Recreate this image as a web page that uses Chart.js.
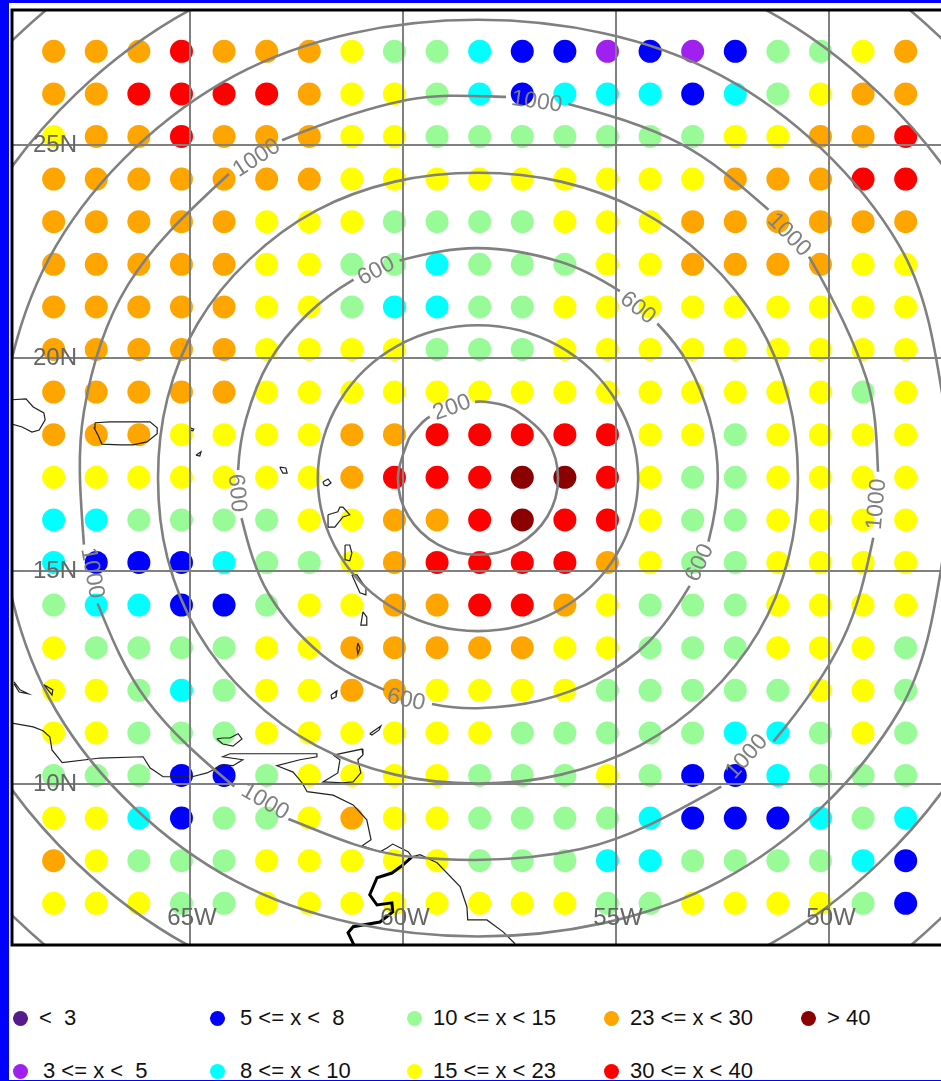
<!DOCTYPE html>
<html>
<head>
<meta charset="utf-8">
<title>Range rings and station values</title>
<script src="https://cdn.jsdelivr.net/npm/chart.js@4"></script>
<style>
  html, body { margin: 0; padding: 0; background: #0000ff; width: 941px; height: 1081px; overflow: hidden; }
  #sheet { position: absolute; left: 9px; top: 3px; width: 932px; height: 1077px; background: #fff; overflow: hidden; }
  #map { position: absolute; left: 0; top: 0; }
  #legend {
    position: absolute; left: 4px; top: 1002px;
    display: grid; grid-auto-flow: column;
    grid-template-columns: repeat(5, 197px); grid-template-rows: repeat(2, 53px);
    font: 22px "Liberation Sans", sans-serif; color: #111;
  }
  .item { display: flex; align-items: center; height: 26px; white-space: pre; }
  .dot { width: 15px; height: 15px; border-radius: 50%; margin-right: 11px; flex: none; }
  .item:nth-child(2) .dot { margin-right: 15px; }
  .item:nth-child(3) .dot, .item:nth-child(4) .dot { margin-right: 15px; }
</style>
</head>
<body>
<div id="sheet">
  <canvas id="map" width="932" height="950"></canvas>
  <div id="legend"></div>
</div>
<script>
const lons = [-68.2, -67.2, -66.2, -65.2, -64.2, -63.2, -62.2, -61.2, -60.2, -59.2, -58.2, -57.2, -56.2, -55.2, -54.2, -53.2, -52.2, -51.2, -50.2, -49.2, -48.2];
const lats = [27.2, 26.2, 25.2, 24.2, 23.2, 22.2, 21.2, 20.2, 19.2, 18.2, 17.2, 16.2, 15.2, 14.2, 13.2, 12.2, 11.2, 10.2, 9.2, 8.2, 7.2];

const row27 = [26, 26, 26, 35, 26, 26, 26, 19, 12, 12, 9, 6, 6, 4, 6, 4, 6, 12, 12, 19, 26];
const row26 = [26, 26, 35, 35, 35, 35, 26, 19, 19, 12, 9, 6, 9, 9, 9, 6, 9, 12, 19, 26, 26];
const row25 = [19, 26, 26, 35, 26, 26, 26, 19, 19, 12, 12, 12, 12, 12, 12, 12, 19, 19, 26, 26, 35];
const row24 = [26, 26, 26, 26, 26, 26, 26, 19, 19, 19, 19, 19, 19, 19, 19, 19, 26, 26, 26, 35, 35];
const row23 = [26, 26, 26, 26, 26, 19, 19, 19, 12, 12, 12, 12, 19, 19, 19, 26, 26, 26, 26, 26, 26];
const row22 = [26, 26, 26, 26, 26, 19, 19, 12, 12, 9, 12, 12, 12, 19, 19, 26, 26, 26, 26, 19, 19];
const row21 = [26, 26, 26, 26, 26, 19, 19, 12, 9, 9, 12, 12, 19, 19, 19, 19, 19, 19, 19, 19, 19];
const row20 = [26, 26, 26, 26, 26, 19, 19, 19, 19, 12, 12, 12, 19, 19, 19, 19, 19, 19, 19, 19, 19];
const row19 = [26, 26, 26, 26, 26, 19, 19, 19, 19, 19, 19, 19, 19, 19, 19, 19, 19, 19, 19, 12, 19];
const row18 = [26, 26, 26, 19, 19, 19, 19, 26, 26, 35, 35, 35, 35, 35, 19, 19, 12, 19, 19, 19, 19];
const row17 = [19, 19, 19, 19, 19, 19, 19, 26, 35, 35, 35, 45, 45, 35, 19, 12, 12, 19, 19, 19, 19];
const row16 = [9, 9, 12, 12, 12, 12, 19, 19, 26, 26, 35, 45, 35, 35, 19, 12, 12, 19, 19, 19, 19];
const row15 = [9, 6, 6, 6, 9, 12, 12, 19, 26, 35, 35, 35, 35, 26, 19, 12, 12, 19, 19, 19, 19];
const row14 = [12, 9, 9, 6, 6, 12, 19, 19, 26, 26, 35, 35, 26, 19, 12, 12, 12, 19, 19, 19, 19];
const row13 = [19, 12, 12, 12, 12, 19, 19, 26, 26, 26, 26, 26, 19, 19, 12, 12, 12, 19, 19, 19, 12];
const row12 = [19, 19, 12, 9, 12, 19, 19, 26, 26, 19, 19, 19, 19, 12, 12, 12, 12, 12, 19, 19, 12];
const row11 = [19, 19, 12, 12, 12, 19, 19, 19, 19, 19, 19, 12, 12, 12, 12, 12, 9, 9, 12, 19, 12];
const row10 = [12, 12, 12, 6, 6, 12, 19, 19, 19, 19, 12, 12, 12, 19, 12, 6, 6, 9, 12, 12, 12];
const row9 = [19, 19, 9, 6, 12, 12, 19, 26, 19, 19, 12, 12, 12, 12, 9, 6, 6, 6, 9, 12, 9];
const row8 = [26, 19, 12, 12, 12, 19, 19, 19, 19, 19, 12, 12, 12, 9, 9, 12, 12, 12, 12, 9, 6];
const row7 = [19, 19, 19, 12, 12, 19, 19, 19, 19, 19, 19, 19, 19, 12, 12, 19, 19, 19, 19, 12, 6];
const rows = [row27, row26, row25, row24, row23, row22, row21, row20, row19, row18, row17, row16, row15, row14, row13, row12, row11, row10, row9, row8, row7];

const classBreaks = [3, 5, 8, 10, 15, 23, 30, 40];
const classLabels = ['<  3', '3 <= x <  5', '5 <= x <  8', '8 <= x < 10', '10 <= x < 15', '15 <= x < 23', '23 <= x < 30', '30 <= x < 40', '> 40'];
const classColors = ['#551a8b', '#a020f0', '#0000ff', '#00ffff', '#98fb98', '#ffff00', '#ffa500', '#ff0000', '#8b0000'];

// Range rings. Each ring wraps round by one point so the curve stays smooth at the ends
const ring200Lon = [-59.37, -58.31, -57.75, -57.30, -56.61, -56.36, -56.61, -57.30, -58.24, -59.18, -59.87, -60.12, -59.87, -59.68, -59.37, -58.31];
const ring200Lat = [18.62, 18.97, 18.92, 18.74, 18.08, 17.18, 16.28, 15.62, 15.38, 15.62, 16.28, 17.18, 18.08, 18.34, 18.62, 18.97];
const ring400Lon = [-54.61, -54.48, -54.61, -54.99, -55.58, -56.36, -57.27, -58.24, -59.21, -60.12, -60.90, -61.49, -61.87, -62.00, -61.87, -61.49, -60.90, -60.12, -59.21, -58.24, -57.27, -56.36, -55.58, -54.99, -54.61, -54.48, -54.61];
const ring400Lat = [16.25, 17.18, 18.11, 18.98, 19.72, 20.29, 20.65, 20.77, 20.65, 20.29, 19.72, 18.98, 18.11, 17.18, 16.25, 15.38, 14.64, 14.07, 13.71, 13.59, 13.71, 14.07, 14.64, 15.38, 16.25, 17.18, 18.11];
const ring600Lon = [-53.27, -52.83, -52.61, -52.80, -53.33, -54.03, -54.91, -56.31, -58.24, -60.08, -61.16, -62.25, -63.15, -63.68, -63.87, -63.79, -63.15, -61.89, -60.44, -59.32, -58.24, -56.78, -55.41, -54.23, -53.27, -52.83];
const ring600Lat = [14.65, 15.69, 17.18, 18.58, 19.90, 20.81, 21.57, 22.26, 22.58, 22.29, 21.84, 21.02, 19.90, 18.58, 17.37, 16.24, 14.46, 13.02, 12.21, 11.88, 11.78, 11.96, 12.48, 13.34, 14.65, 15.69];
const ring800Lon = [-50.95, -50.73, -50.95, -51.66, -52.87, -54.44, -56.29, -58.24, -60.19, -62.04, -63.61, -64.82, -65.53, -65.75, -65.53, -64.82, -63.61, -62.04, -60.19, -58.24, -56.29, -54.44, -52.87, -51.66, -50.95, -50.73, -50.95];
const ring800Lat = [15.31, 17.18, 19.05, 20.81, 22.31, 23.46, 24.14, 24.35, 24.14, 23.46, 22.31, 20.81, 19.05, 17.18, 15.31, 13.56, 12.05, 10.90, 10.22, 10.01, 10.22, 10.90, 12.05, 13.56, 15.31, 17.18, 19.05];
const ring1000Lon = [-48.96, -48.85, -49.12, -50.47, -51.42, -53.49, -56.12, -57.58, -59.88, -62.84, -64.09, -66.46, -67.49, -67.49, -67.17, -66.02, -63.96, -62.69, -59.88, -55.80, -52.53, -51.30, -49.69, -48.96, -48.85];
const ring1000Lat = [15.78, 17.33, 19.51, 22.38, 23.48, 25.03, 25.96, 26.13, 26.06, 25.11, 24.32, 21.71, 18.74, 15.62, 14.24, 11.98, 9.94, 9.18, 8.30, 8.48, 9.94, 11.00, 13.37, 15.78, 17.33];
const ring1200Lon = [-46.97, -48.35, -52.53, -58.24, -63.95, -68.14, -69.51, -68.14, -63.95, -58.24, -52.53, -48.35, -46.97];
const ring1200Lat = [17.18, 22.64, 26.63, 27.94, 26.63, 22.64, 17.18, 11.72, 7.73, 6.42, 7.73, 11.72, 17.18];
const ring1400Lon = [-45.09, -46.69, -51.57, -58.24, -64.91, -69.80, -71.39, -69.80, -64.91, -58.24, -51.57, -46.69, -45.09];
const ring1400Lat = [17.18, 23.55, 28.22, 29.74, 28.22, 23.55, 17.18, 10.81, 6.14, 4.62, 6.14, 10.81, 17.18];
const ring1600Lon = [-43.22, -44.97, -50.58, -58.24, -65.90, -71.51, -73.26, -71.51, -65.90, -58.24, -50.58, -44.97, -43.22];
const ring1600Lat = [17.18, 24.50, 29.85, 31.52, 29.85, 24.50, 17.18, 9.87, 4.51, 2.84, 4.51, 9.87, 17.18];
const ringsLon = [ring200Lon, ring400Lon, ring600Lon, ring800Lon, ring1000Lon, ring1200Lon, ring1400Lon, ring1600Lon];
const ringsLat = [ring200Lat, ring400Lat, ring600Lat, ring800Lat, ring1000Lat, ring1200Lat, ring1400Lat, ring1600Lat];
// segments left blank: the wrap-round pieces and the gaps under ring labels
const ringGaps = [[0, 14], [0, 25], [0, 5, 9, 14, 18, 24], [0, 25], [0, 3, 6, 9, 13, 16, 20, 23], [], [], []];

const ringLabelText = ['200', '600', '600', '600', '600', '600', '1000', '1000', '1000', '1000', '1000', '1000', '1000'];
const ringLabelLon = [-58.85, -60.63, -54.49, -53.03, -59.93, -63.90, -63.43, -56.86, -50.94, -48.88, -51.93, -63.24, -67.30];
const ringLabelLat = [18.83, 22.04, 21.17, 15.19, 11.97, 16.83, 24.69, 26.01, 22.89, 16.57, 10.64, 9.58, 14.95];
const ringLabelTilt = [-20, -27, 38, -65, 12, 85, -33, 8, 45, -85, -48, 30, 80];

// Coastlines, [lon, lat]
const hispaniola = [[-69.18, 19.02], [-68.85, 19.04], [-68.68, 18.85], [-68.43, 18.71], [-68.40, 18.55], [-68.54, 18.31], [-68.71, 18.26], [-68.94, 18.38], [-69.18, 18.45]];
const puertoRico = [[-67.23, 18.48], [-66.88, 18.50], [-65.94, 18.50], [-65.77, 18.36], [-65.77, 18.22], [-66.01, 18.03], [-66.34, 17.96], [-66.64, 17.96], [-67.07, 17.98], [-67.16, 18.19], [-67.25, 18.36], [-67.23, 18.48]];
const virginIsles = [[-65.00, 18.36], [-64.91, 18.33], [-64.93, 18.29], [-65.00, 18.31], [-65.00, 18.36]];
const stCroix = [[-64.86, 17.72], [-64.74, 17.80], [-64.77, 17.70], [-64.86, 17.72]];
const stKitts = [[-62.89, 17.44], [-62.75, 17.42], [-62.72, 17.30], [-62.82, 17.30], [-62.86, 17.37], [-62.89, 17.44]];
const antigua = [[-61.88, 17.09], [-61.76, 17.16], [-61.69, 17.07], [-61.78, 17.00], [-61.85, 17.02], [-61.88, 17.09]];
const guadeloupe = [[-61.76, 16.32], [-61.53, 16.39], [-61.48, 16.50], [-61.41, 16.50], [-61.25, 16.32], [-61.41, 16.27], [-61.60, 16.03], [-61.76, 16.03], [-61.76, 16.32]];
const dominica = [[-61.36, 15.61], [-61.25, 15.61], [-61.20, 15.42], [-61.25, 15.24], [-61.34, 15.26], [-61.36, 15.61]];
const martinique = [[-61.20, 14.91], [-61.08, 14.91], [-60.87, 14.60], [-60.87, 14.44], [-61.01, 14.49], [-61.20, 14.91]];
const stLucia = [[-60.94, 14.04], [-60.85, 13.92], [-60.85, 13.73], [-60.99, 13.73], [-60.94, 14.04]];
const stVincent = [[-61.06, 13.31], [-61.01, 13.19], [-61.06, 13.05], [-61.08, 13.19], [-61.06, 13.31]];
const grenada = [[-61.69, 12.09], [-61.55, 12.19], [-61.57, 12.05], [-61.67, 12.00], [-61.69, 12.09]];
const tobago = [[-60.78, 11.18], [-60.52, 11.36], [-60.56, 11.27], [-60.73, 11.15], [-60.78, 11.18]];
const trinidad = [[-61.64, 10.68], [-60.96, 10.82], [-60.94, 10.68], [-61.06, 10.57], [-60.99, 10.26], [-61.17, 10.05], [-61.41, 10.03], [-61.88, 10.05], [-61.53, 10.26], [-61.48, 10.57], [-61.64, 10.68]];
const margarita = [[-64.37, 11.06], [-64.23, 11.08], [-64.06, 11.08], [-63.87, 11.18], [-63.78, 11.06], [-63.99, 10.89], [-64.23, 10.94], [-64.37, 11.06]];
const aruba = [[-69.13, 12.40], [-68.99, 12.21], [-68.80, 12.12], [-69.01, 12.16], [-69.13, 12.35]];
const curacao = [[-68.43, 12.33], [-68.22, 12.21], [-68.24, 12.09], [-68.43, 12.33]];
const mainland = [[-69.18, 11.43], [-68.68, 11.34], [-68.45, 11.25], [-68.29, 11.11], [-68.24, 10.80], [-68.00, 10.50], [-67.11, 10.61], [-66.10, 10.64], [-65.94, 10.38], [-65.63, 10.17], [-64.95, 10.17], [-64.60, 10.26], [-64.23, 10.45], [-63.99, 10.43], [-63.76, 10.57], [-64.23, 10.64], [-64.06, 10.71], [-62.02, 10.71], [-62.02, 10.64], [-62.42, 10.57], [-62.96, 10.43], [-62.58, 10.28], [-62.37, 10.03], [-62.25, 9.82], [-61.64, 9.74], [-61.17, 9.51], [-60.85, 9.16], [-60.75, 8.69], [-60.96, 8.55], [-60.54, 8.41], [-60.38, 8.50], [-60.24, 8.59], [-59.88, 8.41], [-59.79, 8.29], [-59.60, 8.34], [-59.20, 8.15], [-58.66, 7.59], [-58.50, 7.12], [-58.48, 6.81], [-58.03, 6.81], [-57.65, 6.53], [-57.37, 6.25]];
const coasts = [hispaniola, puertoRico, virginIsles, stCroix, stKitts, antigua, guadeloupe, dominica, martinique, stLucia, stVincent, grenada, tobago, trinidad, margarita, aruba, curacao, mainland];
const border = [[-59.79, 8.29], [-60.00, 8.10], [-60.26, 7.91], [-60.61, 7.80], [-60.78, 7.40], [-60.61, 7.16], [-60.26, 7.21], [-60.24, 7.00], [-60.54, 6.76], [-61.17, 6.65], [-61.29, 6.51], [-61.15, 6.22]];

const lonTicks = [-65, -60, -55, -50];
const latTicks = [10, 15, 20, 25];

function classOf(v) {
  const i = classBreaks.findIndex(b => v < b);
  return i < 0 ? classBreaks.length : i;
}

function toPoints(pairs) {
  return pairs.map(p => ({ x: p[0], y: p[1] }));
}

// tick labels sit inside the map, so the axes must not take any room
function noRoom(s) {
  if (s.isHorizontal()) s.height = 0; else s.width = 0;
  s.paddingLeft = s.paddingRight = s.paddingTop = s.paddingBottom = 0;
}

const dotSets = classLabels.map((label, c) => {
  const data = [];
  rows.forEach((row, r) => row.forEach((v, i) => {
    if (classOf(v) === c) data.push({ x: lons[i], y: lats[r] });
  }));
  return { label, data, order: 3, backgroundColor: classColors[c], borderWidth: 0, pointRadius: 11.5 };
});

const coastSets = coasts.map(c => ({
  data: toPoints(c), order: 2, showLine: true, pointRadius: 0, borderColor: '#222', borderWidth: 1.2
}));
coastSets.push({ data: toPoints(border), order: 2, showLine: true, pointRadius: 0, borderColor: '#000', borderWidth: 3 });

const ringSets = ringsLon.map((lon, k) => ({
  data: lon.map((v, i) => ({ x: v, y: ringsLat[k][i] })),
  order: 1, showLine: true, pointRadius: 0, borderColor: '#808080', borderWidth: 2.6, tension: 0.34,
  segment: { borderColor: ctx => ringGaps[k].includes(ctx.p0DataIndex) ? 'transparent' : undefined }
}));

// ring labels follow the ring, and the lon labels sit on the map, the axes cannot do either
const mapText = {
  id: 'mapText',
  afterDraw(chart) {
    const { ctx, scales, chartArea } = chart;
    ctx.save();
    ctx.textAlign = 'center';
    ctx.textBaseline = 'middle';
    ctx.font = '24px "Liberation Sans", sans-serif';
    ctx.fillStyle = '#666';
    lonTicks.forEach(v => {
      ctx.fillText(Math.abs(v) + 'W', scales.x.getPixelForValue(v) + 2, chartArea.bottom - 27);
    });
    ctx.font = '23px "Liberation Sans", sans-serif';
    ctx.fillStyle = '#808080';
    ringLabelText.forEach((t, i) => {
      ctx.save();
      ctx.translate(scales.x.getPixelForValue(ringLabelLon[i]), scales.y.getPixelForValue(ringLabelLat[i]));
      ctx.rotate(ringLabelTilt[i] * Math.PI / 180);
      ctx.fillText(t, 0, 0);
      ctx.restore();
    });
    ctx.restore();
  }
};

// open on the right, the map runs off the page there
const frame = {
  id: 'frame',
  afterDraw(chart) {
    const { ctx, chartArea: a } = chart;
    ctx.save();
    ctx.strokeStyle = '#000';
    ctx.lineWidth = 3;
    ctx.beginPath();
    ctx.moveTo(a.right + 5, a.top);
    ctx.lineTo(a.left, a.top);
    ctx.lineTo(a.left, a.bottom);
    ctx.lineTo(a.right + 5, a.bottom);
    ctx.stroke();
    ctx.restore();
  }
};

new Chart(document.getElementById('map'), {
  type: 'scatter',
  data: { datasets: [...dotSets, ...coastSets, ...ringSets] },
  plugins: [mapText, frame],
  options: {
    responsive: false,
    animation: false,
    events: [],
    layout: { autoPadding: false, padding: { left: 3, top: 7, right: 0, bottom: 8 } },
    elements: { line: { capBezierPoints: false } },
    plugins: { legend: { display: false }, tooltip: { enabled: false } },
    scales: {
      x: {
        type: 'linear',
        min: -69.178,
        max: -47.371,
        afterBuildTicks: s => { s.ticks = lonTicks.map(value => ({ value })); },
        afterFit: noRoom,
        grid: { color: '#808080', lineWidth: 2, drawTicks: false, z: 1 },
        border: { display: false },
        ticks: { display: false }
      },
      y: {
        type: 'linear',
        min: 6.221,
        max: 28.169,
        afterBuildTicks: s => { s.ticks = latTicks.map(value => ({ value })); },
        afterFit: noRoom,
        grid: { color: '#808080', lineWidth: 2, drawTicks: false, z: 1 },
        border: { display: false },
        ticks: {
          mirror: true, padding: 21, z: 2, color: '#666',
          font: { family: '"Liberation Sans", sans-serif', size: 24 },
          callback: v => v + 'N'
        }
      }
    }
  }
});

// legend sits in columns under the map
document.getElementById('legend').innerHTML = classLabels.map((label, c) =>
  `<div class="item"><span class="dot" style="background:${classColors[c]}"></span>${label.replace(/</g, '&lt;')}</div>`
).join('');
</script>
</body>
</html>
